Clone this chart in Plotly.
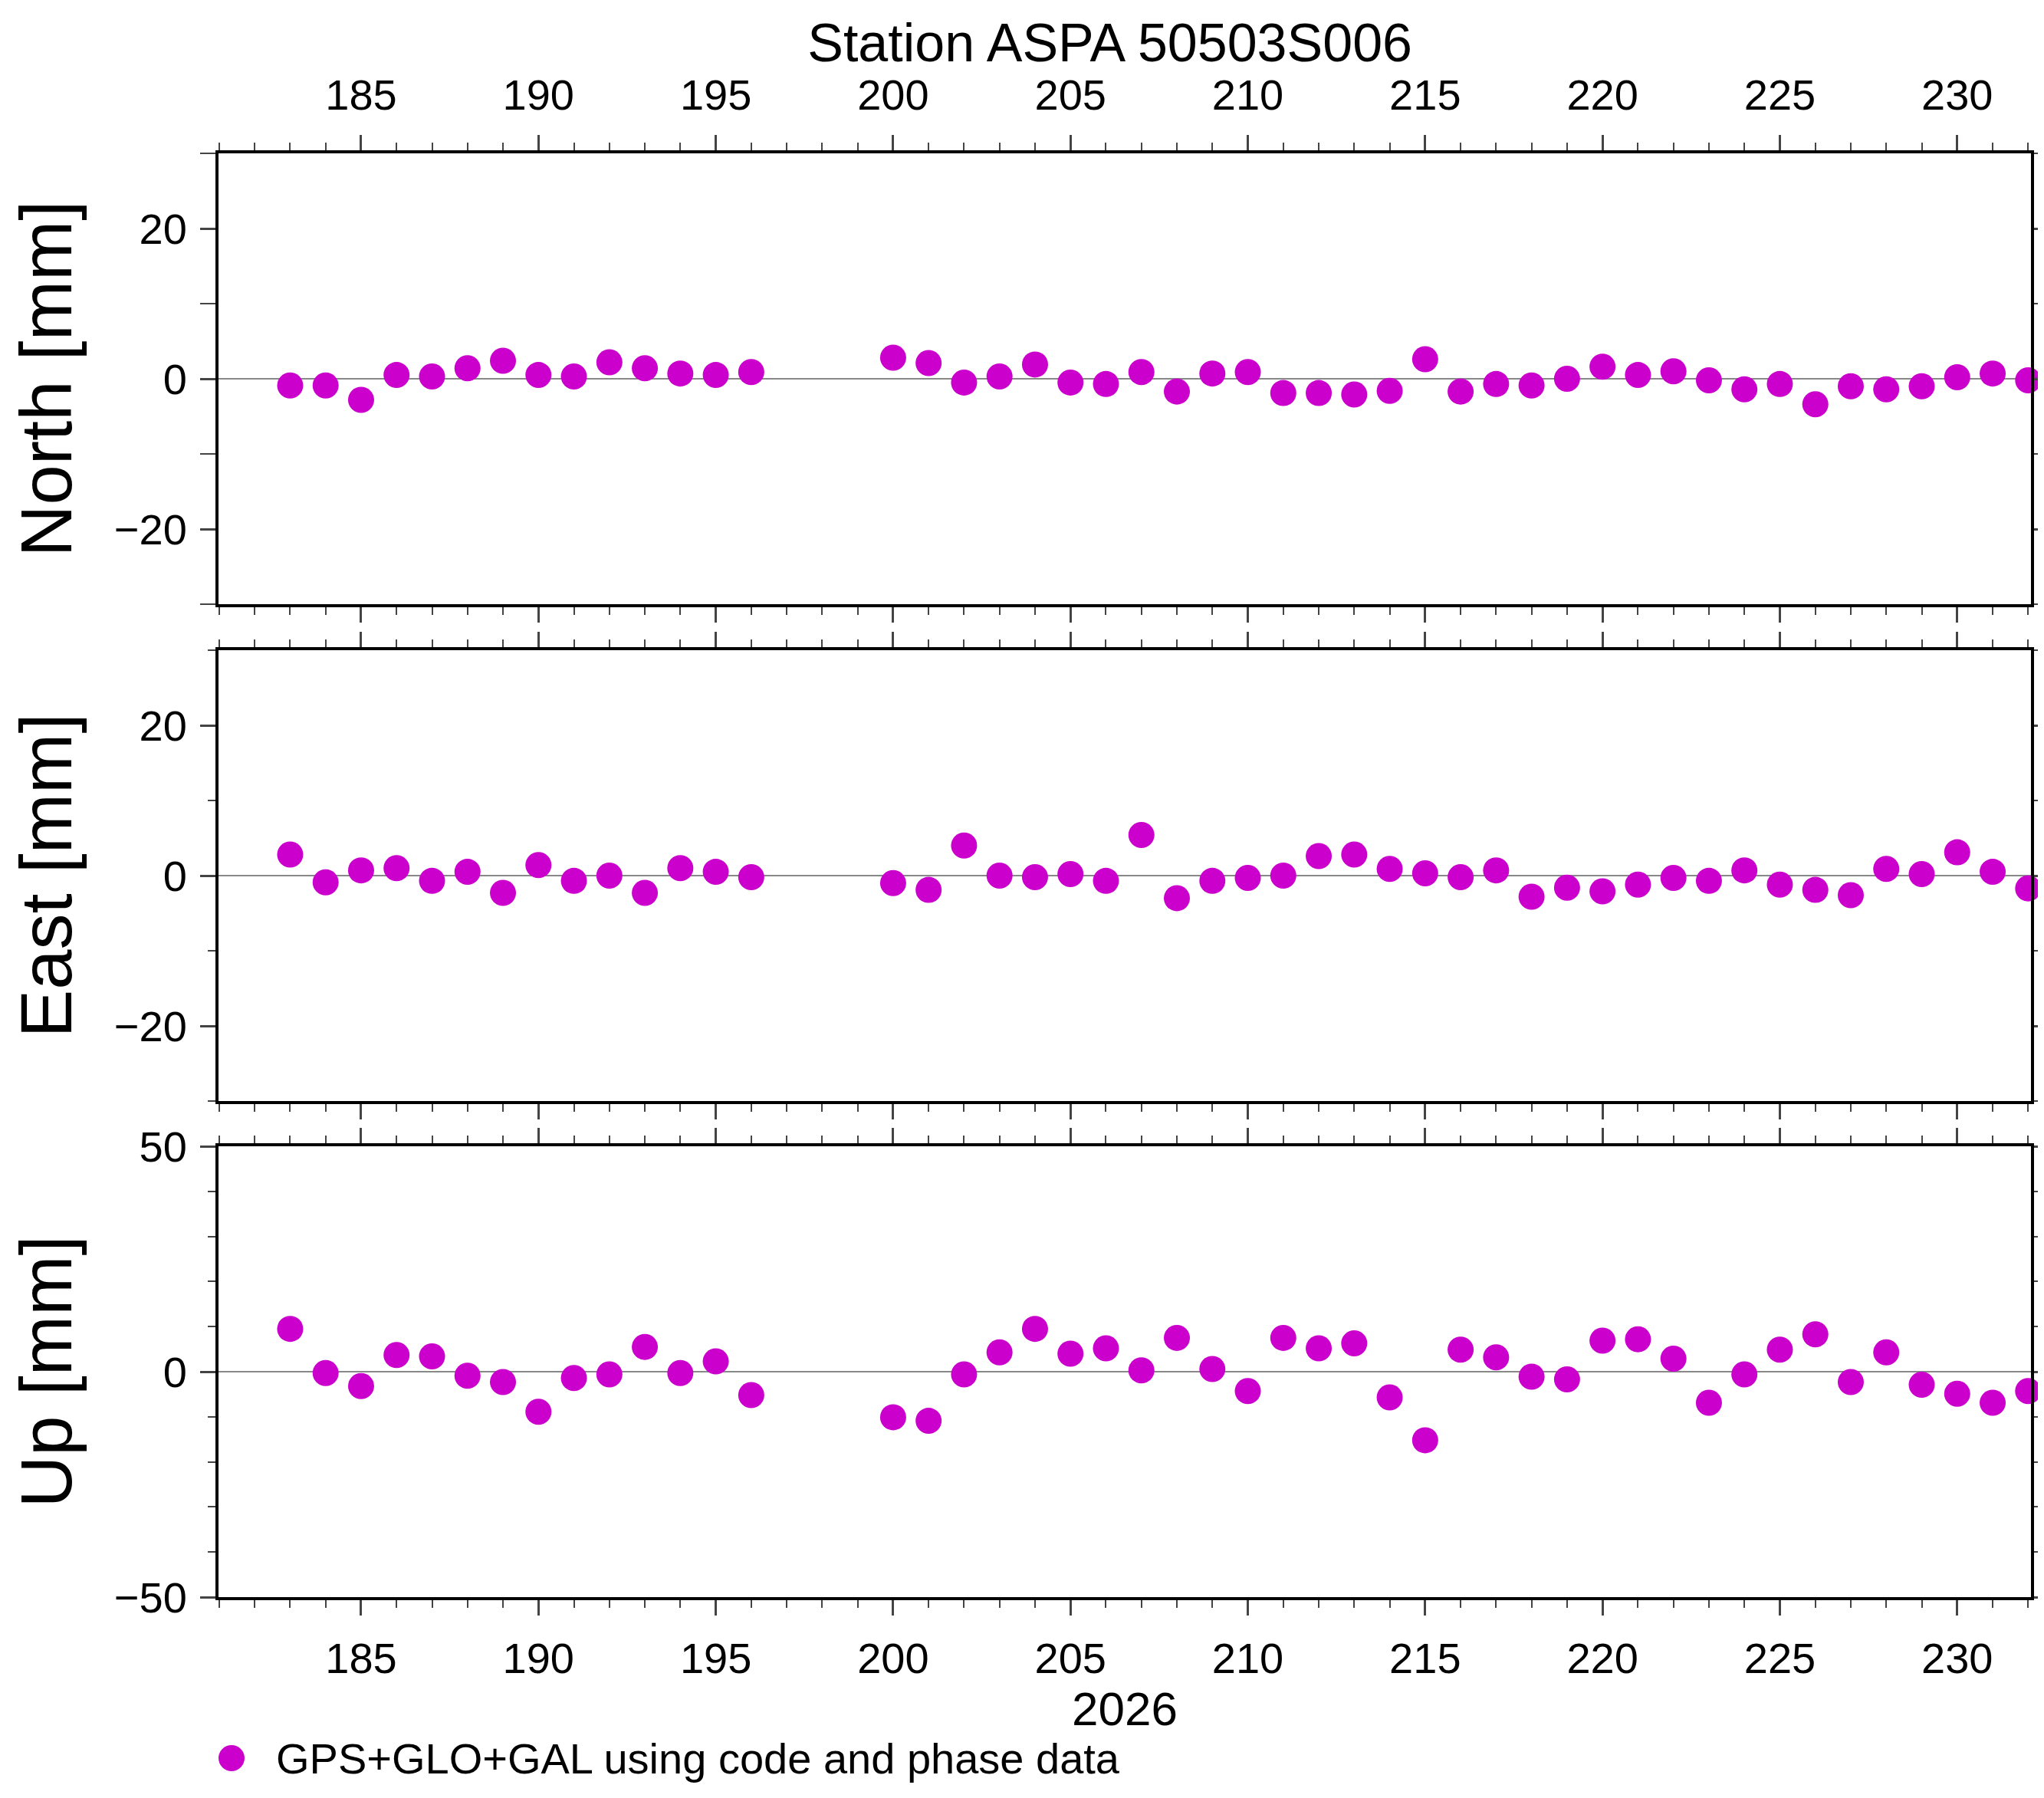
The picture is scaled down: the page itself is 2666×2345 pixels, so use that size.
import plotly.graph_objects as go

# Day of year and N/E/U residuals (mm)
days = [183, 184, 185, 186, 187, 188, 189, 190, 191, 192, 193, 194, 195, 196,
        200, 201, 202, 203, 204, 205, 206, 207, 208, 209, 210, 211, 212, 213,
        214, 215, 216, 217, 218, 219, 220, 221, 222, 223, 224, 225, 226, 227,
        228, 229, 230, 231, 232]
north = [-0.9, -0.9, -2.8, 0.5, 0.3, 1.4, 2.4, 0.5, 0.3, 2.2, 1.4, 0.7, 0.5, 0.9,
         2.8, 2.1, -0.5, 0.3, 1.9, -0.5, -0.7, 0.9, -1.7, 0.7, 0.9, -1.9, -1.9, -2.1,
         -1.6, 2.6, -1.7, -0.7, -0.9, 0.0, 1.6, 0.5, 1.0, -0.2, -1.4, -0.7, -3.4, -1.0,
         -1.4, -1.0, 0.2, 0.7, -0.2]
east = [2.8, -0.9, 0.7, 1.0, -0.7, 0.5, -2.3, 1.4, -0.7, 0.0, -2.3, 1.0, 0.5, -0.2,
        -1.0, -1.9, 4.0, 0.0, -0.2, 0.2, -0.7, 5.4, -3.0, -0.7, -0.3, 0.0, 2.6, 2.8,
        0.9, 0.3, -0.2, 0.7, -2.8, -1.6, -2.1, -1.2, -0.3, -0.7, 0.7, -1.2, -1.9, -2.6,
        0.9, 0.2, 3.1, 0.5, -1.7]
up = [9.5, -0.3, -3.2, 3.7, 3.4, -0.9, -2.3, -8.9, -1.4, -0.6, 5.5, -0.3, 2.3, -5.2,
      -10.1, -10.9, -0.6, 4.3, 9.5, 4.0, 5.2, 0.3, 7.5, 0.6, -4.3, 7.5, 5.2, 6.3,
      -5.7, -15.2, 4.9, 3.2, -1.1, -1.7, 6.9, 7.2, 2.9, -6.9, -0.6, 4.9, 8.3, -2.3,
      4.3, -2.9, -4.9, -6.9, -4.3]

W, H = 2666, 2345
FONT = "Liberation Sans, Arial, sans-serif"
COLOR = "#cc00cc"
XRANGE = [180.98, 232.08]
LEGEND_TEXT = "GPS+GLO+GAL using code and phase data"

# panel pixel boxes (top, bottom) in image coords
L, R = 277, 2641
panels = [(192, 780), (840, 1428), (1487, 2075)]

fig = go.Figure()

def xd(px):
    return px / W

def yd(py):
    return 1 - py / H

series = [(north, "North [mm]", 30, 20), (east, "East [mm]", 30, 20), (up, "Up [mm]", 50, 50)]
for i, (vals, title, lim, dt) in enumerate(series):
    n = "" if i == 0 else str(i + 1)
    fig.add_trace(go.Scatter(
        x=days, y=vals, mode="markers", xaxis="x" + n, yaxis="y" + n,
        marker=dict(color=COLOR, size=34),
        name=LEGEND_TEXT, showlegend=False, cliponaxis=False,
    ))
    top, bot = panels[i]
    fig.update_layout(**{
        "xaxis" + n: dict(
            domain=[xd(L), xd(R)], anchor="y" + n, range=XRANGE, automargin=False,
            showgrid=False, zeroline=False, showline=True, linecolor="black",
            linewidth=4, mirror="allticks", ticks="outside", ticklen=20,
            tickwidth=3, dtick=5, tick0=185, showticklabels=(i == 2),
            ticklabelstandoff=8,
            tickfont=dict(size=56, family=FONT, color="black"),
            minor=dict(ticks="outside", ticklen=10, dtick=1, tickwidth=2),
            title=dict(text="2026" if i == 2 else "", font=dict(size=62, family=FONT, color="black"), standoff=2),
        ),
        "yaxis" + n: dict(
            domain=[yd(bot), yd(top)], anchor="x" + n, range=[-lim, lim], automargin=False,
            showgrid=False, zeroline=True, zerolinecolor="#888888", zerolinewidth=2,
            showline=True, linecolor="black", linewidth=4, mirror="allticks",
            ticks="outside", ticklen=20, tickwidth=3, dtick=dt, tick0=0,
            ticklabelstandoff=6,
            tickfont=dict(size=56, family=FONT, color="black"),
            minor=dict(ticks="outside", ticklen=10, dtick=dt / 2 if i < 2 else 10, tickwidth=2),
            title=dict(text=title, font=dict(size=94, family=FONT, color="black"), standoff=48),
        ),
    })

# top axis labels for the first panel
fig.add_trace(go.Scatter(x=[days[0]], y=[0], xaxis="x4", yaxis="y", mode="markers",
                         marker=dict(opacity=0), showlegend=False, hoverinfo="skip"))
fig.update_layout(xaxis4=dict(
    overlaying="x", side="top", anchor="y", range=XRANGE, dtick=5, tick0=185,
    ticks="outside", ticklen=34, tickcolor="rgba(0,0,0,0)", automargin=False,
    showgrid=False, zeroline=False, showline=False,
    tickfont=dict(size=56, family=FONT, color="black"),
))

# legend drawn by hand so the symbol keeps the marker size
LY = 2285
fig.add_shape(type="circle", xref="paper", yref="paper",
              x0=xd(277), x1=xd(311), y0=yd(LY + 17), y1=yd(LY - 17),
              fillcolor=COLOR, line=dict(width=0))
fig.add_annotation(text=LEGEND_TEXT, xref="paper", yref="paper",
                   x=xd(350), y=yd(LY), xanchor="left", yanchor="middle",
                   showarrow=False, font=dict(size=56, family=FONT, color="black"))

fig.update_layout(
    width=W, height=H, paper_bgcolor="white", plot_bgcolor="white",
    margin=dict(l=0, r=0, t=0, b=0), showlegend=False,
    title=dict(text="Station ASPA 50503S006", x=0.54, xanchor="center", y=0.99,
               yanchor="top", font=dict(size=70, family=FONT, color="black")),
    font=dict(family=FONT),
)

fig.write_html("out.html")
